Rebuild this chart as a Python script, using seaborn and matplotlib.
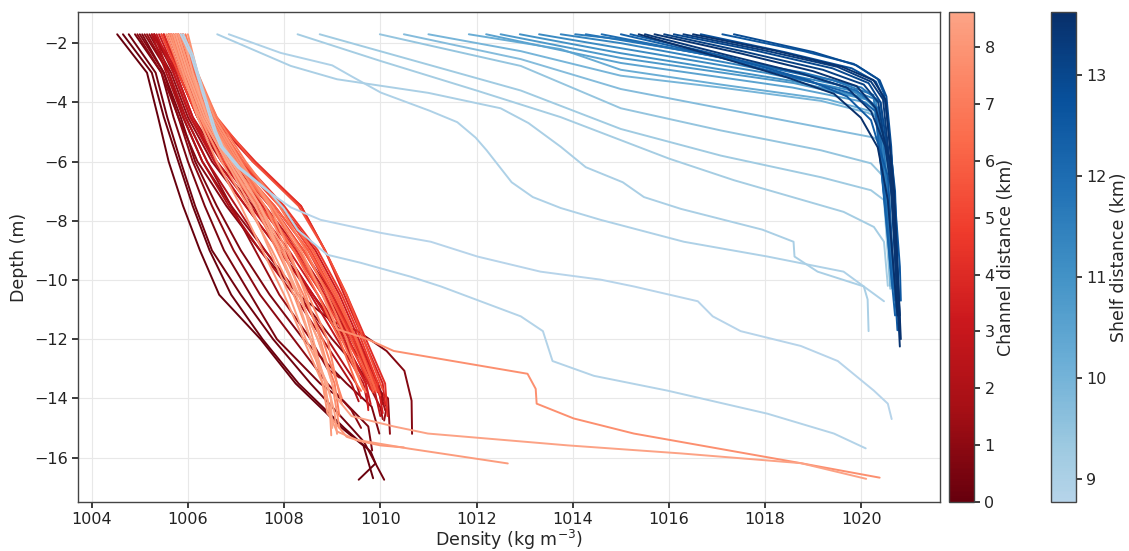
import numpy as np
import pandas as pd
import matplotlib
matplotlib.use("Agg")
import matplotlib.pyplot as plt
import matplotlib.colors as mcolors
import seaborn as sns

# ---------------------------------------------------------------------------
# Channel casts: densities sampled on common depth levels, plus a tail of
# extra (density, depth) vertices down to the bottom of each cast.
# ---------------------------------------------------------------------------
CHANNEL_DEPTHS = [-1.7, -3.0, -4.5, -6.0, -7.5, -9.0, -10.5, -12.0, -13.5, -15.0, -16.5]

CHANNEL_KM = [
    0.00, 0.30, 0.15, 0.50, 0.65, 0.80, 0.95, 1.05, 1.20, 1.30, 1.45, 1.60, 1.80,
    2.20, 2.60, 3.00, 3.30, 3.60, 3.90, 4.20, 4.50, 4.80, 5.10, 5.40, 2.00, 3.80,
    4.60, 5.70, 6.00, 2.80, 5.00, 3.40, 6.20,
    8.62, 8.40, 8.20, 7.90, 7.60, 7.30, 7.00, 6.70, 6.40, 7.80, 8.50, 8.00, 8.30, 7.10,
]

CHANNEL_RHO = [
    [1004.53, 1005.15, 1005.38, 1005.60, 1005.90, 1006.25, 1006.65, 1007.51, 1008.24, 1009.20],
    [1004.77, 1005.33, 1005.57, 1005.85, 1006.15, 1006.50, 1007.10, 1007.77, 1008.55, 1009.40],
    [1004.65, 1005.25, 1005.50, 1005.80, 1006.10, 1006.45, 1006.90, 1007.55, 1008.30, 1009.25],
    [1004.90, 1005.45, 1005.70, 1006.00, 1006.35, 1006.75, 1007.30, 1007.85, 1008.75],
    [1005.05, 1005.50, 1005.85, 1006.15, 1006.60, 1007.10, 1007.70, 1008.40, 1009.30],
    [1005.00, 1005.50, 1005.80, 1006.20, 1006.80, 1007.50, 1008.30],
    [1004.95, 1005.45, 1005.80, 1006.10, 1006.50, 1006.95, 1007.50, 1008.20, 1008.90],
    [1005.10, 1005.60, 1005.90, 1006.30, 1006.90, 1007.60, 1008.30, 1009.00, 1009.80],
    [1005.20, 1005.65, 1006.00, 1006.50, 1007.20, 1007.90, 1008.60, 1009.30, 1009.95],
    [1005.15, 1005.60, 1005.95, 1006.40, 1006.90, 1007.40, 1007.90, 1008.55],
    [1005.30, 1005.70, 1006.05, 1006.60, 1007.35, 1008.00, 1008.60, 1009.20, 1009.75],
    [1005.25, 1005.75, 1006.10, 1006.70, 1007.50, 1008.20, 1008.80, 1009.40, 1009.90],
    [1005.30, 1005.80, 1006.20, 1006.90, 1007.70, 1008.40, 1009.00, 1009.50, 1009.95],
    [1005.30, 1005.60, 1005.95, 1006.40, 1007.00, 1007.60, 1008.30, 1008.90, 1009.50],
    [1005.50, 1005.80, 1006.20, 1006.80, 1007.60, 1008.30, 1008.90, 1009.40, 1009.85],
    [1005.40, 1005.75, 1006.10, 1006.60, 1007.30, 1008.00, 1008.60, 1009.20, 1009.70],
    [1005.60, 1005.90, 1006.35, 1007.05, 1007.95, 1008.65, 1009.15, 1009.55, 1009.95],
    [1005.70, 1006.00, 1006.50, 1007.35, 1008.35, 1008.85, 1009.25, 1009.65, 1010.05],
    [1005.50, 1005.85, 1006.30, 1006.95, 1007.80, 1008.50, 1009.00, 1009.45, 1009.90],
    [1005.80, 1006.10, 1006.55, 1007.40, 1008.35, 1008.85, 1009.30, 1009.70, 1010.10],
    [1005.65, 1005.95, 1006.40, 1007.00, 1007.75, 1008.40, 1008.95, 1009.45, 1009.85],
    [1005.75, 1006.05, 1006.45, 1007.10, 1007.95, 1008.60, 1009.10, 1009.50, 1009.90],
    [1005.45, 1005.80, 1006.20, 1006.75, 1007.50, 1008.20, 1008.80, 1009.30, 1009.80],
    [1005.85, 1006.15, 1006.60, 1007.35, 1008.30, 1008.85, 1009.30, 1009.65, 1010.00],
    [1005.25, 1005.55, 1005.90, 1006.30, 1006.85, 1007.50, 1008.20, 1008.80, 1009.40],
    [1005.60, 1005.90, 1006.30, 1006.85, 1007.55, 1008.25, 1008.85, 1009.35, 1009.75],
    [1005.90, 1006.10, 1006.50, 1007.15, 1008.00, 1008.70, 1009.20, 1009.60, 1009.95],
    [1005.70, 1006.00, 1006.40, 1006.95, 1007.70, 1008.40, 1008.95, 1009.40, 1009.80],
    [1005.80, 1006.05, 1006.45, 1007.00, 1007.80, 1008.50, 1009.05, 1009.50, 1009.85],
    [1005.35, 1005.70, 1006.05, 1006.55, 1007.20, 1007.90, 1008.55, 1009.10, 1009.65],
    [1005.60, 1005.95, 1006.40, 1007.05, 1007.90, 1008.55, 1009.05, 1009.50, 1009.90],
    [1005.45, 1005.80, 1006.20, 1006.70, 1007.40, 1008.10, 1008.70, 1009.25, 1009.70],
    [1005.90, 1006.15, 1006.55, 1007.15, 1007.95, 1008.60, 1009.10, 1009.50, 1009.85],
    [1005.90, 1006.10, 1006.40, 1006.90, 1007.50, 1007.90, 1008.25, 1008.55, 1008.88],
    [1005.70, 1005.95, 1006.30, 1006.80, 1007.30, 1007.70, 1008.10, 1008.45, 1008.90],
    [1005.60, 1005.90, 1006.20, 1006.60, 1007.10, 1007.55, 1008.00, 1008.40, 1008.80],
    [1006.00, 1006.20, 1006.55, 1007.10, 1007.70, 1008.10, 1008.45, 1008.75, 1009.00],
    [1005.80, 1006.05, 1006.45, 1007.00, 1007.60, 1008.05, 1008.50, 1008.90, 1009.10],
    [1005.55, 1005.85, 1006.25, 1006.85, 1007.45, 1007.95, 1008.40, 1008.80, 1009.10],
    [1005.95, 1006.20, 1006.60, 1007.20, 1007.90, 1008.45, 1008.90, 1009.30, 1009.60],
    [1005.75, 1006.00, 1006.40, 1007.00, 1007.70, 1008.30, 1008.80, 1009.20, 1009.60],
    [1005.65, 1005.95, 1006.35, 1006.90, 1007.60, 1008.20, 1008.70, 1009.15, 1009.50],
    [1005.85, 1006.10, 1006.50, 1007.05, 1007.75, 1008.35, 1008.80],
    [1005.75, 1006.00, 1006.35, 1006.85, 1007.40, 1007.90, 1008.30, 1008.70, 1009.00],
    [1005.65, 1005.90, 1006.25, 1006.70, 1007.25, 1007.75, 1008.20, 1008.55, 1008.80],
    [1005.80, 1006.05, 1006.40, 1006.95, 1007.50, 1008.00, 1008.35, 1008.60, 1008.85],
    [1005.70, 1005.95, 1006.30, 1006.80, 1007.40, 1007.85, 1008.30, 1008.70, 1009.05],
]

CHANNEL_TAIL = [
    [(1009.65, -15.60), (1009.85, -16.70)],
    [(1009.66, -15.47), (1010.08, -16.75)],
    [(1009.80, -15.80), (1009.90, -16.20), (1009.55, -16.75)],
    [(1009.23, -14.08), (1009.75, -14.95), (1009.83, -15.76)],
    [(1009.82, -14.28), (1009.98, -15.19)],
    [(1009.00, -11.40), (1009.53, -11.73), (1010.13, -12.40), (1010.50, -13.07),
     (1010.65, -14.08), (1010.66, -15.20)],
    [(1009.40, -14.40), (1009.60, -15.00)],
    [(1010.16, -14.00), (1010.20, -15.20)],
    [(1010.13, -14.30), (1010.08, -14.75)],
    [(1008.90, -13.00), (1009.15, -13.30)],
    [(1010.00, -14.30), (1010.05, -14.70)],
    [(1010.05, -14.20)],
    [(1010.10, -14.40)],
    [(1009.60, -14.00)],
    [(1010.00, -14.60)],
    [(1009.80, -14.20)],
    [(1010.05, -14.50)],
    [(1010.10, -14.20)],
    [(1009.95, -13.80)],
    [(1010.15, -14.60)],
    [(1009.90, -13.80)],
    [(1010.00, -13.90)],
    [(1009.85, -13.80)],
    [(1010.05, -13.70)],
    [(1009.55, -14.10)],
    [(1009.80, -13.70)],
    [(1009.90, -13.75)],
    [(1009.85, -13.70)],
    [(1009.90, -13.75)],
    [(1009.75, -14.30)],
    [(1009.95, -13.75)],
    [(1009.75, -14.40)],
    [(1009.90, -13.70)],
    [(1008.97, -14.00), (1009.00, -15.00)],
    [(1009.05, -14.50), (1009.10, -15.20)],
    [(1008.95, -14.30), (1008.98, -15.25)],
    [(1009.10, -14.50), (1009.15, -15.00)],
    [(1009.20, -14.20)],
    [(1009.20, -14.00)],
    [(1009.70, -13.80)],
    [(1009.65, -13.70)],
    [(1009.60, -13.75)],
    [(1009.10, -11.66), (1009.73, -12.00), (1010.28, -12.40), (1013.06, -13.17),
     (1013.23, -13.68), (1013.25, -14.18), (1014.02, -14.68), (1015.27, -15.19),
     (1017.35, -15.79), (1018.74, -16.19), (1020.38, -16.68)],
    [(1009.10, -14.00), (1009.40, -14.60), (1010.28, -14.95), (1010.99, -15.19),
     (1013.90, -15.59), (1016.24, -15.86), (1018.74, -16.19), (1020.10, -16.72)],
    [(1008.90, -14.50), (1009.30, -15.30), (1009.59, -15.45), (1010.00, -15.59),
     (1010.49, -15.66)],
    [(1008.95, -14.60), (1009.10, -15.12), (1009.50, -15.40), (1010.60, -15.70),
     (1012.65, -16.20)],
    [(1009.15, -14.60)],
]

# ---------------------------------------------------------------------------
# Shelf casts: (density, depth) vertices for each cast.
# ---------------------------------------------------------------------------
SHELF_KM = [
    8.77, 8.85, 8.95, 9.05, 9.15, 9.25, 9.45, 9.70, 9.95, 10.20,
    10.50, 10.80, 11.00, 11.20, 11.40, 11.60, 11.80, 12.00, 12.30, 12.50,
    13.62, 13.40, 13.50, 13.20, 13.00, 13.30, 13.55, 12.80, 12.60, 12.90,
]

SHELF_CASTS = [
    [(1005.85, -1.7), (1006.06, -2.4), (1006.27, -3.5), (1006.54, -4.95), (1006.68, -5.5),
     (1007.04, -6.2), (1007.66, -7.0), (1008.14, -7.55), (1008.76, -7.97), (1010.01, -8.41),
     (1011.05, -8.71), (1012.02, -9.21), (1013.33, -9.72), (1014.58, -9.99), (1015.27, -10.22),
     (1016.60, -10.72), (1016.91, -11.23), (1017.49, -11.73), (1018.74, -12.23),
     (1019.51, -12.74), (1020.26, -13.74), (1020.55, -14.18), (1020.63, -14.70)],
    [(1005.90, -1.7), (1006.10, -2.4), (1006.30, -3.5), (1006.58, -4.95), (1006.72, -5.5),
     (1007.08, -6.2), (1007.68, -7.0), (1008.00, -7.6), (1008.28, -8.31), (1008.90, -9.15),
     (1009.59, -9.42), (1010.63, -9.89), (1011.26, -10.22), (1012.92, -11.23),
     (1013.38, -11.73), (1013.58, -12.74), (1014.44, -13.24), (1015.97, -13.74),
     (1018.05, -14.52), (1019.43, -15.19), (1020.09, -15.69)],
    [(1006.85, -1.7), (1007.93, -2.33), (1009.00, -2.75), (1009.39, -3.11), (1010.01, -3.67),
     (1011.02, -4.28), (1011.60, -4.67), (1011.98, -5.19), (1012.21, -5.62), (1012.73, -6.70),
     (1013.17, -7.20), (1013.75, -7.57), (1014.58, -7.97), (1016.31, -8.71), (1018.05, -9.21),
     (1019.63, -9.72), (1020.05, -10.22), (1020.47, -10.72)],
    [(1006.61, -1.7), (1008.14, -2.77), (1009.10, -3.22), (1010.01, -3.44), (1011.00, -3.68),
     (1012.50, -4.20), (1013.08, -4.70), (1013.75, -5.50), (1014.27, -6.19), (1015.04, -6.70),
     (1015.48, -7.20), (1016.25, -7.60), (1017.94, -8.30), (1018.59, -8.71), (1018.61, -9.21),
     (1019.09, -9.72), (1020.05, -10.22), (1020.13, -10.66), (1020.15, -11.73)],
    [(1008.28, -1.7), (1010.00, -2.60), (1012.00, -3.60), (1013.75, -4.50), (1016.00, -5.90),
     (1017.35, -6.63), (1019.63, -7.70), (1020.26, -8.21), (1020.47, -8.71), (1020.55, -10.20)],
    [(1008.74, -1.7), (1010.50, -2.50), (1012.92, -3.60), (1015.00, -4.90), (1017.08, -5.80),
     (1019.16, -6.53), (1020.20, -6.97), (1020.47, -7.30), (1020.60, -10.30)],
    [(1009.99, -1.7), (1012.92, -2.77), (1015.00, -4.20), (1017.08, -4.95), (1019.16, -5.62),
     (1020.20, -6.06), (1020.47, -6.53), (1020.60, -9.50)],
    [(1010.49, -1.7), (1012.92, -2.54), (1015.00, -3.55), (1017.08, -4.20), (1019.16, -4.85),
     (1020.26, -5.19), (1020.55, -5.52), (1020.65, -9.90)],
    [(1011.00, -1.7), (1012.92, -2.27), (1015.00, -3.10), (1017.08, -3.50), (1019.16, -3.95),
     (1020.13, -4.35), (1020.47, -4.62), (1020.60, -10.20)],
    [(1011.84, -1.7), (1013.75, -2.20), (1015.00, -2.90), (1017.08, -3.40), (1019.30, -3.90),
     (1020.20, -4.30), (1020.50, -4.80), (1020.62, -10.10)],
    [(1012.20, -1.7), (1015.00, -2.67), (1018.57, -3.50), (1020.09, -4.00), (1020.40, -4.50),
     (1020.65, -10.30)],
    [(1012.50, -1.7), (1015.00, -2.50), (1018.60, -3.35), (1020.10, -3.90), (1020.40, -4.40),
     (1020.60, -9.60)],
    [(1012.90, -1.7), (1015.00, -2.34), (1018.57, -3.28), (1020.09, -3.85), (1020.38, -4.28),
     (1020.65, -10.00)],
    [(1013.30, -1.7), (1015.00, -2.17), (1018.00, -3.00), (1019.80, -3.60), (1020.30, -4.10),
     (1020.62, -9.80)],
    [(1013.75, -1.7), (1015.00, -2.00), (1017.50, -2.75), (1019.50, -3.40), (1020.30, -3.90),
     (1020.70, -10.50)],
    [(1014.05, -1.7), (1015.00, -1.87), (1017.50, -2.60), (1019.40, -3.25), (1020.25, -3.75),
     (1020.68, -10.30)],
    [(1014.27, -1.7), (1016.50, -2.30), (1018.80, -3.00), (1020.00, -3.50), (1020.40, -4.00),
     (1020.70, -10.70)],
    [(1014.60, -1.7), (1016.80, -2.40), (1018.90, -3.10), (1019.90, -3.60), (1020.35, -4.20),
     (1020.65, -10.30)],
    [(1015.00, -1.7), (1017.00, -2.45), (1018.70, -3.20), (1019.80, -3.70), (1020.30, -4.30),
     (1020.70, -11.20)],
    [(1015.20, -1.7), (1017.30, -2.50), (1018.90, -3.25), (1019.70, -3.80), (1020.20, -4.60),
     (1020.55, -6.50), (1020.75, -11.70)],
    [(1015.37, -1.7), (1017.08, -2.49), (1018.46, -3.16), (1019.43, -3.71), (1019.99, -4.52),
     (1020.34, -5.52), (1020.55, -7.30), (1020.75, -11.20)],
    [(1015.50, -1.7), (1017.20, -2.40), (1018.70, -3.00), (1019.70, -3.50), (1020.20, -4.30),
     (1020.50, -5.50), (1020.70, -8.00), (1020.80, -11.70)],
    [(1015.70, -1.7), (1017.50, -2.35), (1019.00, -2.95), (1019.90, -3.45), (1020.30, -4.20),
     (1020.60, -6.00), (1020.80, -12.25)],
    [(1015.90, -1.7), (1017.60, -2.30), (1019.20, -2.90), (1020.05, -3.40), (1020.35, -4.00),
     (1020.60, -6.50), (1020.78, -11.50)],
    [(1016.10, -1.7), (1017.80, -2.25), (1019.40, -2.85), (1020.15, -3.35), (1020.40, -4.00),
     (1020.62, -6.50), (1020.75, -10.70)],
    [(1016.30, -1.7), (1018.00, -2.25), (1019.50, -2.80), (1020.20, -3.30), (1020.45, -3.90),
     (1020.65, -7.00), (1020.80, -11.20)],
    [(1016.50, -1.7), (1018.20, -2.25), (1019.60, -2.80), (1020.25, -3.25), (1020.50, -3.90),
     (1020.68, -7.00), (1020.82, -12.00)],
    [(1016.66, -1.7), (1018.40, -2.30), (1019.80, -2.85), (1020.30, -3.30), (1020.50, -4.00),
     (1020.70, -7.00), (1020.80, -11.70)],
    [(1017.11, -1.7), (1018.80, -2.27), (1019.84, -2.70), (1020.34, -3.21), (1020.47, -3.71),
     (1020.55, -4.62), (1020.65, -6.30), (1020.80, -9.55), (1020.82, -10.70)],
    [(1017.35, -1.7), (1019.00, -2.30), (1019.90, -2.75), (1020.38, -3.25), (1020.52, -3.80),
     (1020.62, -5.50), (1020.75, -10.00)],
]


def channel_frame():
    rows = []
    for i, (km, rho, tail) in enumerate(zip(CHANNEL_KM, CHANNEL_RHO, CHANNEL_TAIL)):
        cast = list(zip(rho, CHANNEL_DEPTHS)) + list(tail)
        for d, z in cast:
            rows.append((i, km, d, z))
    return pd.DataFrame(rows, columns=["cast", "km", "density", "depth"])


def shelf_frame():
    rows = []
    for i, (km, cast) in enumerate(zip(SHELF_KM, SHELF_CASTS)):
        for d, z in cast:
            rows.append((i, km, d, z))
    return pd.DataFrame(rows, columns=["cast", "km", "density", "depth"])


def truncated(name, lo, hi, reverse=False):
    cols = plt.get_cmap(name)(np.linspace(lo, hi, 256))
    if reverse:
        cols = cols[::-1]
    return mcolors.ListedColormap(cols, name=f"{name}_{lo}_{hi}")


sns.set_theme(style="ticks")
plt.rcParams["font.family"] = ["DejaVu Sans"]

channel_df = channel_frame()
shelf_df = shelf_frame()

red_cmap = truncated("Reds", 0.32, 1.0, reverse=True)
blue_cmap = truncated("Blues", 0.30, 1.0)
red_norm = mcolors.Normalize(min(CHANNEL_KM), max(CHANNEL_KM))
blue_norm = mcolors.Normalize(min(SHELF_KM), max(SHELF_KM))

W, H = 1129, 551
fig = plt.figure(figsize=(W / 100, H / 100), dpi=100)
ax = fig.add_axes([78 / W, 1 - 502 / H, (940 - 78) / W, (502 - 12) / H])
cax_red = fig.add_axes([949 / W, 1 - 502 / H, 25 / W, (502 - 12) / H])
cax_blue = fig.add_axes([1051 / W, 1 - 502 / H, 25 / W, (502 - 12) / H])

common = dict(x="density", y="depth", hue="km", units="cast", estimator=None,
              sort=False, legend=False, linewidth=1.4, ax=ax)
sns.lineplot(data=channel_df, palette=red_cmap, hue_norm=red_norm, **common)
sns.lineplot(data=shelf_df, palette=blue_cmap, hue_norm=blue_norm, **common)

ax.set_xticks(np.arange(1004, 1021, 2))
ax.set_yticks(np.arange(-16, -1, 2))
ax.grid(True, color="#e8e8e8", linewidth=0.8)
ax.set_axisbelow(True)
ax.tick_params(labelsize=11.5, colors="#222222", length=4)
ax.set_xlabel("Density (kg m$^{-3}$)", fontsize=12.5, labelpad=0.5)
ax.set_ylabel("Depth (m)", fontsize=12.5)
for sp in ax.spines.values():
    sp.set_color("#444444")
    sp.set_linewidth(1.0)

for cax, cmap, norm, ticks, label in [
    (cax_red, red_cmap, red_norm, range(0, 9), "Channel distance (km)"),
    (cax_blue, blue_cmap, blue_norm, range(9, 14), "Shelf distance (km)"),
]:
    sm = plt.cm.ScalarMappable(norm=norm, cmap=cmap)
    cb = fig.colorbar(sm, cax=cax, ticks=list(ticks))
    cb.set_label(label, fontsize=12.5, labelpad=2)
    cb.ax.tick_params(labelsize=11.5, length=4)
    cb.outline.set_edgecolor("#444444")
    cb.outline.set_linewidth(1.0)

fig.savefig("out.png", dpi=100)
